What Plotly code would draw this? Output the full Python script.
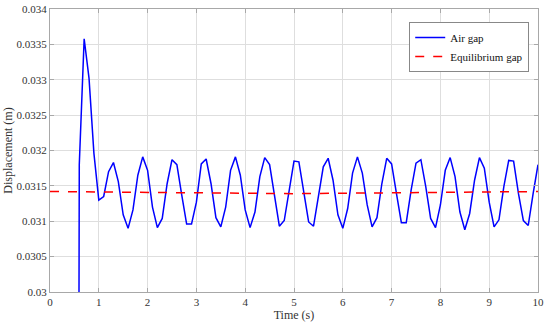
import plotly.graph_objects as go

# Air gap samples (0.1 s step)
time_s = [0.5, 0.6, 0.7, 0.8, 0.9, 1.0, 1.1, 1.2, 1.3, 1.4, 1.5, 1.6, 1.7, 1.8, 1.9,
          2.0, 2.1, 2.2, 2.3, 2.4, 2.5, 2.6, 2.7, 2.8, 2.9, 3.0, 3.1, 3.2, 3.3, 3.4,
          3.5, 3.6, 3.7, 3.8, 3.9, 4.0, 4.1, 4.2, 4.3, 4.4, 4.5, 4.6, 4.7, 4.8, 4.9,
          5.0, 5.1, 5.2, 5.3, 5.4, 5.5, 5.6, 5.7, 5.8, 5.9, 6.0, 6.1, 6.2, 6.3, 6.4,
          6.5, 6.6, 6.7, 6.8, 6.9, 7.0, 7.1, 7.2, 7.3, 7.4, 7.5, 7.6, 7.7, 7.8, 7.9,
          8.0, 8.1, 8.2, 8.3, 8.4, 8.5, 8.6, 8.7, 8.8, 8.9, 9.0, 9.1, 9.2, 9.3, 9.4,
          9.5, 9.6, 9.7, 9.8, 9.9, 10.0]
air_gap = [0.0, 0.0318, 0.03358, 0.03302, 0.03196, 0.0313, 0.03135, 0.0317, 0.03183, 0.03156,
           0.03109, 0.0309, 0.03116, 0.03165, 0.03191, 0.03172, 0.0312, 0.03091, 0.03104, 0.03153,
           0.03187, 0.0318, 0.03137, 0.03096, 0.03096, 0.03127, 0.03181, 0.03188, 0.03153, 0.03105,
           0.03092, 0.0312, 0.03172, 0.03191, 0.03165, 0.03116, 0.03091, 0.03113, 0.03163, 0.0319,
           0.0318, 0.03135, 0.03093, 0.03101, 0.03144, 0.03185, 0.03184, 0.03144, 0.03099, 0.03093,
           0.03132, 0.03177, 0.03189, 0.03158, 0.03109, 0.0309, 0.03118, 0.03168, 0.03191, 0.03168,
           0.03123, 0.03092, 0.03105, 0.03153, 0.03189, 0.03181, 0.03139, 0.03098, 0.03098, 0.03144,
           0.03182, 0.03187, 0.03149, 0.03104, 0.03091, 0.03123, 0.03172, 0.0319, 0.03163, 0.03113,
           0.03088, 0.03111, 0.03158, 0.0319, 0.03175, 0.03127, 0.03092, 0.03102, 0.03149, 0.03186,
           0.03185, 0.03139, 0.03101, 0.03094, 0.03139, 0.0318]

# Equilibrium gap
eq_time = [0.0, 5.0, 10.0]
eq_gap = [0.03142, 0.03139, 0.03142]

x_ticks = [0, 1, 2, 3, 4, 5, 6, 7, 8, 9, 10]
y_ticks = [0.03, 0.0305, 0.031, 0.0315, 0.032, 0.0325, 0.033, 0.0335, 0.034]
y_tick_labels = ["0.03", "0.0305", "0.031", "0.0315", "0.032", "0.0325", "0.033", "0.0335", "0.034"]

font_family = "Liberation Serif"

fig = go.Figure()
fig.add_trace(go.Scatter(x=time_s, y=air_gap, mode="lines", name="Air gap",
                         line=dict(color="#0000FF", width=1.5)))
fig.add_trace(go.Scatter(x=eq_time, y=eq_gap, mode="lines", name="Equilibrium gap",
                         line=dict(color="#FF0000", width=1.5, dash="dash")))

axis_common = dict(showgrid=True, gridcolor="#DEDEDE", gridwidth=1,
                   showline=True, linecolor="#A8A8A8", linewidth=1, mirror="ticks",
                   ticks="inside", ticklen=4, tickcolor="#A8A8A8",
                   zeroline=False, automargin=False,
                   tickfont=dict(family=font_family, size=11, color="#333333"))

fig.update_xaxes(range=[0, 10], tickvals=x_ticks,
                 title=dict(text="Time (s)", font=dict(family=font_family, size=12, color="#333333"),
                            standoff=2),
                 **axis_common)
fig.update_yaxes(range=[0.03, 0.034], tickvals=y_ticks, ticktext=y_tick_labels,
                 title=dict(text="Displacement (m)", font=dict(family=font_family, size=12, color="#333333"),
                            standoff=1),
                 **axis_common)

fig.update_layout(
    width=550, height=324,
    margin=dict(l=50, r=12, t=9, b=32),
    plot_bgcolor="white", paper_bgcolor="white",
    font=dict(family=font_family, size=12, color="#333333"),
    showlegend=True,
    legend=dict(x=0.982, y=0.954, xanchor="right", yanchor="top",
                bgcolor="white", bordercolor="#888888", borderwidth=1,
                font=dict(family=font_family, size=11, color="#111111"),
                tracegroupgap=0, itemwidth=30),
)

fig.write_html("out.html", config={"displayModeBar": False},
               post_script="document.body.style.margin='0';")
